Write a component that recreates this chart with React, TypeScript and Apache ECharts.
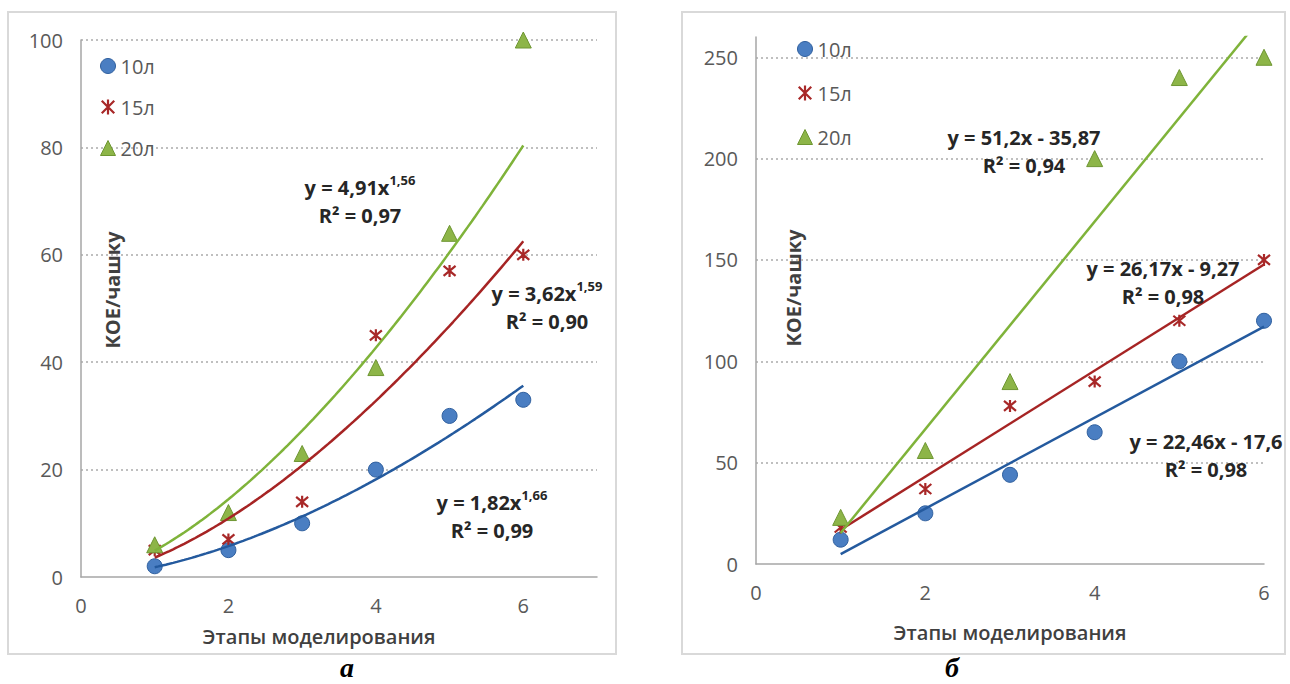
import React, { useEffect, useRef } from 'react';
import * as echarts from 'echarts';

// ---------- data ----------
const seriesNames = ['10л', '15л', '20л'];
const stageX = [1, 2, 3, 4, 5, 6];

// panel "а" (power trends)
const leftY10 = [2, 5, 10, 20, 30, 33];
const leftY15 = [5, 7, 14, 45, 57, 60];
const leftY20 = [6, 12, 23, 39, 64, 100];
const powerCoefA = [1.82, 3.62, 4.91];
const powerExpB = [1.66, 1.59, 1.56];
const powerR2 = ['0,99', '0,90', '0,97'];

// panel "б" (linear trends)
const rightY10 = [12, 25, 44, 65, 100, 120];
const rightY15 = [18, 37, 78, 90, 120, 150];
const rightY20 = [23, 56, 90, 200, 240, 250];
const linearSlope = [22.46, 26.17, 51.2];
const linearIntercept = [-17.6, -9.27, -35.87];
const linearR2 = ['0,98', '0,98', '0,94'];

// axes
const leftXTicks = [0, 2, 4, 6];
const leftXMax = 7;
const leftYTicks = [0, 20, 40, 60, 80, 100];
const rightXTicks = [0, 2, 4, 6];
const rightYTicks = [0, 50, 100, 150, 200, 250];
const rightYMax = 260;

const xAxisTitle = 'Этапы моделирования';
const yAxisTitle = 'КОЕ/чашку';
const panelLetters = ['а', 'б'];

// ---------- styles ----------
const FONT = '"Open Sans", "DejaVu Sans", sans-serif';
const fills = ['#4A7EC2', 'rgba(0,0,0,0)', '#8DB548'];
const borders = ['#2F5F9E', '#A82828', '#6E9632'];
const borderWidths = [1, 2.2, 1];
const lineColors = ['#245A9E', '#A62424', '#7FB33A'];
const ASTERISK = 'path://M1,1L11,11M11,1L1,11M6,0L6,12';
const symbols = ['circle', ASTERISK, 'triangle'];
const symbolSizes = [15, 12, 16];

const fmt = (v: number) => String(v).replace('.', ',');

const App: React.FC = () => {
  const ref = useRef<HTMLDivElement>(null);

  useEffect(() => {
    document.body.style.margin = '0';
    if (!ref.current) return;
    const chart = echarts.init(ref.current, undefined, { renderer: 'svg' });

    const leftData = [leftY10, leftY15, leftY20];
    const rightData = [rightY10, rightY15, rightY20];

    const series: any[] = [];
    [leftData, rightData].forEach((panel, gi) => {
      panel.forEach((ys, k) => {
        series.push({
          type: 'scatter',
          name: seriesNames[k],
          xAxisIndex: gi,
          yAxisIndex: gi,
          symbol: symbols[k],
          symbolSize: symbolSizes[k],
          itemStyle: { color: fills[k], borderColor: borders[k], borderWidth: borderWidths[k], opacity: 1 },
          z: 2,
          silent: true,
          data: stageX.map((x, i) => [x, ys[i]]),
        });
      });
    });

    // power trend lines (panel а)
    const powerXs: number[] = [];
    for (let x = 1; x <= 6.0001; x += 0.05) powerXs.push(+x.toFixed(2));
    powerCoefA.forEach((a, k) => {
      series.push({
        type: 'line',
        name: 'trend-a-' + k,
        xAxisIndex: 0,
        yAxisIndex: 0,
        symbol: 'none',
        silent: true,
        z: 3,
        lineStyle: { color: lineColors[k], width: 2.5 },
        data: powerXs.map((x) => [x, a * Math.pow(x, powerExpB[k])]),
      });
    });
    // linear trend lines (panel б)
    linearSlope.forEach((m, k) => {
      series.push({
        type: 'line',
        name: 'trend-b-' + k,
        xAxisIndex: 1,
        yAxisIndex: 1,
        symbol: 'none',
        silent: true,
        z: 3,
        clip: true,
        lineStyle: { color: lineColors[k], width: 2.5 },
        data: [1, 6].map((x) => [x, m * x + linearIntercept[k]]),
      });
    });

    const legendData = seriesNames.map((n, k) => ({
      name: n,
      icon: symbols[k],
      itemStyle: { color: fills[k], borderColor: borders[k], borderWidth: borderWidths[k] },
    }));

    const axisLabel = { color: '#595959', fontSize: 20, fontFamily: FONT, margin: 18 };
    const axisLine = { show: true, lineStyle: { color: '#A6A6A6', width: 1.5 } };
    const splitLine = { show: true, showMinLine: false, lineStyle: { color: '#BFBFBF', width: 2, type: [2, 3] } };

    const eqRich = {
      m: { fontSize: 20, fontWeight: 'bold', fontFamily: FONT, fill: '#262626', lineHeight: 28 },
      s: { fontSize: 13, fontWeight: 'bold', fontFamily: FONT, fill: '#262626', lineHeight: 18, verticalAlign: 'top' },
    };
    const powerPos = [
      [492, 488],
      [547, 279],
      [360, 173],
    ];
    const linearPos = [
      [1206, 427],
      [1163, 254],
      [1024, 123],
    ];

    const graphic: any[] = [
      { type: 'rect', shape: { x: 8, y: 12, width: 608, height: 642 }, style: { fill: 'none', stroke: '#D9D9D9', lineWidth: 2 }, z: 0 },
      { type: 'rect', shape: { x: 682, y: 12, width: 603, height: 642 }, style: { fill: 'none', stroke: '#D9D9D9', lineWidth: 2 }, z: 0 },
    ];
    powerCoefA.forEach((a, k) => {
      graphic.push({
        type: 'text',
        x: powerPos[k][0],
        y: powerPos[k][1],
        z: 10,
        style: {
          text: `{m|y = ${fmt(a)}x}{s|${fmt(powerExpB[k])}}\n{m|R² = ${powerR2[k]}}`,
          rich: eqRich,
          align: 'center',
          verticalAlign: 'top',
        },
      });
    });
    linearSlope.forEach((m, k) => {
      graphic.push({
        type: 'text',
        x: linearPos[k][0],
        y: linearPos[k][1],
        z: 10,
        style: {
          text: `{m|y = ${fmt(m)}x - ${fmt(-linearIntercept[k])}}\n{m|R² = ${linearR2[k]}}`,
          rich: eqRich,
          align: 'center',
          verticalAlign: 'top',
        },
      });
    });
    const titleStyle = { fontSize: 20, fontWeight: 600, fontFamily: FONT, fill: '#404040', align: 'center', verticalAlign: 'middle' };
    const letterStyle = { fontSize: 28, fontWeight: 'bold', fontStyle: 'italic', fontFamily: '"Liberation Serif", "DejaVu Serif", serif', fill: '#000', align: 'center', verticalAlign: 'middle' };
    graphic.push(
      { type: 'text', x: 319, y: 636, style: { ...titleStyle, text: xAxisTitle } },
      { type: 'text', x: 1010, y: 632, style: { ...titleStyle, text: xAxisTitle } },
      { type: 'text', x: 112, y: 290, rotation: Math.PI / 2, style: { ...titleStyle, fontWeight: 'bold', text: yAxisTitle } },
      { type: 'text', x: 793, y: 288, rotation: Math.PI / 2, style: { ...titleStyle, fontWeight: 'bold', text: yAxisTitle } },
      { type: 'text', x: 347, y: 667, style: { ...letterStyle, text: panelLetters[0] } },
      { type: 'text', x: 952, y: 667, style: { ...letterStyle, text: panelLetters[1] } },
    );

    const legendText = { color: '#595959', fontSize: 20, fontFamily: FONT };
    chart.setOption({
      animation: false,
      backgroundColor: '#fff',
      textStyle: { fontFamily: FONT },
      grid: [
        { left: 81, top: 40, width: 516, height: 537 },
        { left: 756, top: 37, width: 508, height: 527 },
      ],
      xAxis: [
        {
          type: 'value', gridIndex: 0, min: leftXTicks[0], max: leftXMax, interval: leftXTicks[1] - leftXTicks[0],
          axisLine, axisTick: { show: false }, splitLine: { show: false },
          axisLabel: { ...axisLabel, showMaxLabel: false },
        },
        {
          type: 'value', gridIndex: 1, min: rightXTicks[0], max: rightXTicks[rightXTicks.length - 1], interval: rightXTicks[1] - rightXTicks[0],
          axisLine, axisTick: { show: false }, splitLine: { show: false },
          axisLabel,
        },
      ],
      yAxis: [
        {
          type: 'value', gridIndex: 0, min: leftYTicks[0], max: leftYTicks[leftYTicks.length - 1], interval: leftYTicks[1] - leftYTicks[0],
          axisLine, axisTick: { show: false }, splitLine,
          axisLabel,
        },
        {
          type: 'value', gridIndex: 1, min: rightYTicks[0], max: rightYMax, interval: rightYTicks[1] - rightYTicks[0],
          axisLine, axisTick: { show: false }, splitLine: { ...splitLine, showMaxLine: false },
          axisLabel: { ...axisLabel, showMaxLabel: false },
        },
      ],
      legend: [
        {
          orient: 'vertical', left: 100, top: 56, padding: 0, itemGap: 21, itemWidth: 15, itemHeight: 15,
          selectedMode: false, data: legendData, textStyle: legendText,
        },
        {
          orient: 'vertical', left: 797, top: 39, padding: 0, itemGap: 24, itemWidth: 15, itemHeight: 15,
          selectedMode: false, data: legendData, textStyle: legendText,
        },
      ],
      graphic,
      series,
    });

    return () => chart.dispose();
  }, []);

  return <div ref={ref} style={{ width: 1290, height: 684 }} />;
};

export default App;
